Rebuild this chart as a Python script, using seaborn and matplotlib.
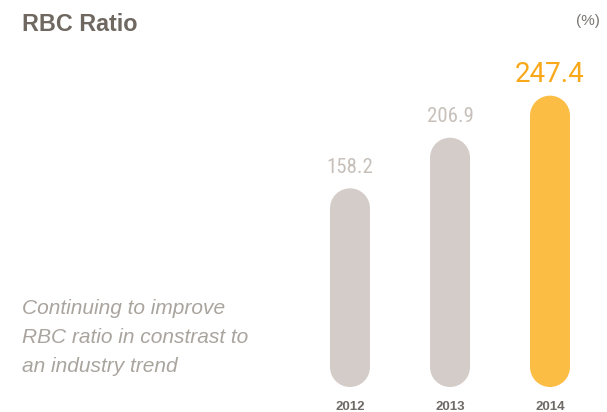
import matplotlib
matplotlib.use("Agg")
import matplotlib.pyplot as plt
from matplotlib.patches import Ellipse, Rectangle
from matplotlib import font_manager
import seaborn as sns
import pandas as pd

# Data
years = ["2012", "2013", "2014"]
rbc_ratio = [158.2, 206.9, 247.4]
value_labels = ["158.2", "206.9", "247.4"]

# Styling
bar_colors = ["#d3ccc8", "#d3ccc8", "#fcbd45"]
label_colors = ["#c7c0ba", "#c7c0ba", "#f9a819"]
PIPE_BASE = -33          # pipes start slightly below zero for the rounded foot
Y_TOP = 300

sns.set_theme(style="white")
plt.rcParams["font.family"] = ["Liberation Sans", "DejaVu Sans"]

# pick a condensed face for the grey value labels when one is installed
installed = {f.name for f in font_manager.fontManager.ttflist}
narrow = next((n for n in ["Liberation Sans Narrow", "DejaVu Sans Condensed",
                           "Roboto Condensed", "Open Sans Condensed",
                           "Noto Sans Condensed"] if n in installed),
              "Liberation Sans")

W, H, DPI = 607, 412, 100
fig = plt.figure(figsize=(W / DPI, H / DPI), dpi=DPI)
fig.patch.set_facecolor("white")

ax_left, ax_right = 300, 600
ax_bottom, ax_top = 387, 41
ax = fig.add_axes([ax_left / W, (H - ax_bottom) / H,
                   (ax_right - ax_left) / W, (ax_bottom - ax_top) / H])

df = pd.DataFrame({"year": years, "ratio": rbc_ratio})
sns.barplot(data=df, x="year", y="ratio", hue="year", palette=bar_colors,
            legend=False, width=0.4, ax=ax, saturation=1)

ax.set_xlim(-0.5, 2.5)
ax.set_ylim(PIPE_BASE, Y_TOP)

# data units per pixel in each direction
bbox = ax.get_window_extent()
x_per_px = 3.0 / bbox.width
y_per_px = (Y_TOP - PIPE_BASE) / bbox.height

# Turn each square bar into a pill: body plus two half-circle ends
for patch, color in zip(list(ax.patches), bar_colors):
    x0 = patch.get_x()
    w = patch.get_width()
    top = patch.get_y() + patch.get_height()
    patch.set_visible(False)
    ry = (w / 2) / x_per_px * y_per_px
    cx = x0 + w / 2
    ax.add_patch(Rectangle((x0, PIPE_BASE + ry), w, top - PIPE_BASE - 2 * ry,
                           facecolor=color, edgecolor="none", zorder=3))
    for cy in (PIPE_BASE + ry, top - ry):
        ax.add_patch(Ellipse((cx, cy), w, 2 * ry, facecolor=color,
                             edgecolor="none", zorder=3))

# Value labels above each pipe
for i, (v, txt, c) in enumerate(zip(rbc_ratio, value_labels, label_colors)):
    big = i == len(rbc_ratio) - 1
    ax.annotate(txt, xy=(i, v), xytext=(0, 10 if big else 11),
                textcoords="offset points", ha="center", va="baseline",
                fontsize=20 if big else 15, color=c,
                family=["Roboto", "DejaVu Sans"] if big
                else [narrow, "DejaVu Sans"])

# Axis cosmetics
ax.set_xlabel("")
ax.set_ylabel("")
ax.set_yticks([])
ax.tick_params(axis="x", length=0, pad=10)
for lbl in ax.get_xticklabels():
    lbl.set_fontsize(9.5)
    lbl.set_fontweight("bold")
    lbl.set_color("#6e6a66")
for s in ax.spines.values():
    s.set_visible(False)
ax.set_facecolor("none")

# Title, unit and caption
fig.text(22 / W, 1 - 24.5 / H, "RBC Ratio", fontsize=16.8, fontweight="bold",
         color="#6f6861", ha="left", va="center")
fig.text(600 / W, 1 - 21 / H, "(%)", fontsize=11, color="#7a7672",
         ha="right", va="center")
caption = ["Continuing to improve", "RBC ratio in constrast to",
           "an industry trend"]
for k, line in enumerate(caption):
    fig.text(22 / W, 1 - (308 + 29.5 * k) / H, line, fontsize=15,
             fontstyle="italic", color="#aaa49e", ha="left", va="center")

fig.savefig("out.png", dpi=DPI, facecolor="white")
